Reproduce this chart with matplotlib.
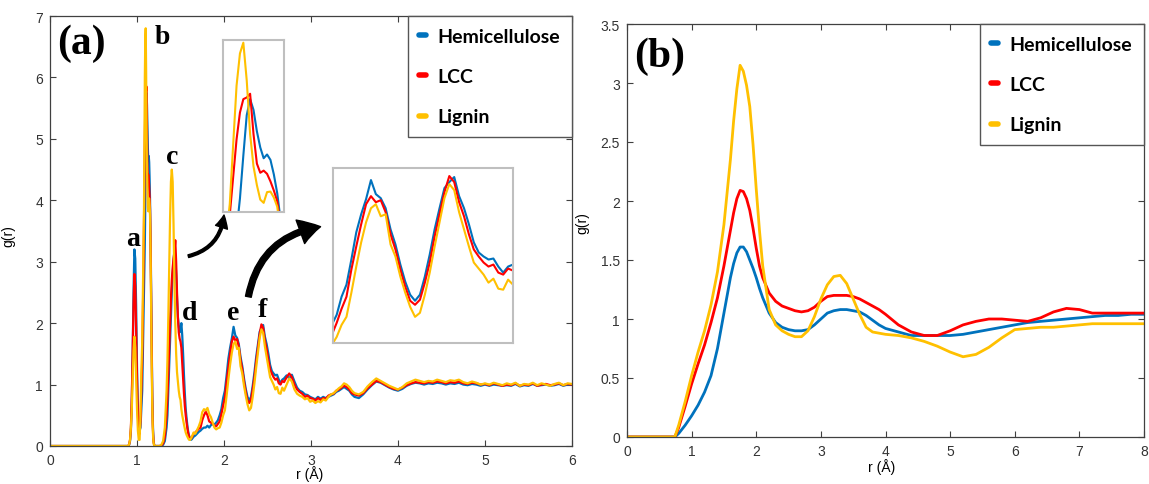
import numpy as np
import matplotlib.pyplot as plt
from matplotlib.lines import Line2D

plt.rcParams['font.family'] = ['Liberation Sans', 'DejaVu Sans']

BLUE = '#0072BD'
RED = '#FF0000'
YELLOW = '#FFC000'
names = ['Hemicellulose', 'LCC', 'Lignin']

# ---- (a) raw g(r), shared r grid in Angstrom ----
r_a = np.concatenate([
    [0.0, 0.90],
    np.arange(0.91, 1.055, 0.01),
    np.arange(1.06, 1.2025, 0.005),
    np.arange(1.22, 1.345, 0.02),
    np.arange(1.35, 1.655, 0.01),
    np.arange(1.67, 2.695, 0.02),
    np.arange(2.72, 3.505, 0.03),
    np.arange(3.55, 6.005, 0.05),
])

hemi_a = [0, 0,
    0.02, 0.08, 0.25, 0.7, 1.5, 2.5, 3.2, 3.05, 2.3, 1.3, 0.6, 0.3, 0.25, 0.3, 0.6,
    0.9, 1.3, 1.7, 2.1, 2.5, 2.9, 3.3, 3.9, 4.7, 5.45, 5.75, 5.55, 5.15, 4.85, 4.65, 4.72, 4.62, 4.35, 4.0, 3.5,
    2.9, 2.2, 1.5, 0.9, 0.5, 0.25, 0.1, 0.04, 0.0,
    0, 0, 0, 0, 0.02, 0.08, 0.3,
    0.5, 0.9, 1.3, 1.7, 2.1, 2.5, 2.8, 3.0, 3.2, 3.1, 2.8, 2.4, 2.1, 1.95, 1.85, 1.9, 2.0, 1.8, 1.5, 1.15,
    0.85, 0.6, 0.45, 0.32, 0.22, 0.16, 0.12, 0.1, 0.11, 0.13, 0.15,
    0.17, 0.2, 0.23, 0.25, 0.28, 0.3, 0.3, 0.33, 0.3, 0.34, 0.36, 0.35, 0.38, 0.42, 0.5, 0.6, 0.78, 0.9,
    1.15, 1.42, 1.6, 1.75, 1.94, 1.8, 1.76, 1.66, 1.45, 1.3, 1.1, 0.93, 0.8, 0.74, 0.8, 0.98, 1.2, 1.45,
    1.66, 1.86, 1.92, 1.97, 1.78, 1.66, 1.5, 1.32, 1.22, 1.18, 1.15, 1.16, 1.08, 1.02, 1.08, 1.1,
    1.15, 1.1, 1.16, 1.05, 0.95, 0.9, 0.88, 0.84, 0.83, 0.8, 0.78, 0.76, 0.8, 0.77, 0.8, 0.78, 0.8, 0.82,
    0.84, 0.88, 0.9, 0.93, 0.96, 0.93, 0.9, 0.84, 0.8,
    0.78, 0.84, 0.92, 0.99, 1.05, 1.03, 0.99, 0.95, 0.92, 0.9, 0.93, 0.98, 1.01, 1.03, 1.02, 1.0, 1.02,
    1.01, 1.03, 1.02, 1.0, 1.02, 1.01, 1.03, 1.0, 0.99, 1.01, 1.0, 0.98, 1.0, 0.98, 1.0, 0.99, 0.98, 0.99,
    0.98, 1.01, 0.97, 0.99, 0.98, 1.01, 0.98, 0.99, 1.0, 0.98, 0.99, 1.01, 0.98, 1.0, 1.0]

lcc_a = [0, 0,
    0.03, 0.1, 0.3, 0.8, 1.5, 2.3, 2.8, 2.6, 1.9, 1.1, 0.5, 0.25, 0.2, 0.4, 0.9,
    1.4, 1.9, 2.4, 2.9, 3.6, 4.3, 5.0, 5.5, 5.75, 5.78, 5.85, 5.1, 4.55, 4.38, 4.42, 4.36, 4.22, 4.05, 3.85,
    3.4, 2.8, 2.1, 1.4, 0.8, 0.4, 0.2, 0.08, 0.03, 0.0,
    0, 0, 0, 0.01, 0.04, 0.15, 0.5,
    0.8, 1.2, 1.6, 2.0, 2.4, 2.7, 2.9, 3.05, 3.15, 3.35, 3.0, 2.5, 2.1, 1.85, 1.75, 1.7, 1.6, 1.35, 1.1,
    0.85, 0.65, 0.5, 0.38, 0.28, 0.2, 0.15, 0.12, 0.12, 0.14, 0.17, 0.2,
    0.22, 0.25, 0.28, 0.3, 0.42, 0.5, 0.56, 0.5, 0.4, 0.38, 0.36, 0.33, 0.32, 0.36, 0.4, 0.52, 0.66, 0.78,
    1.05, 1.28, 1.5, 1.7, 1.78, 1.72, 1.74, 1.62, 1.4, 1.25, 1.05, 0.88, 0.74, 0.7, 0.75, 0.92, 1.12, 1.38,
    1.6, 1.82, 1.98, 1.92, 1.72, 1.58, 1.4, 1.25, 1.18, 1.12, 1.08, 1.1, 1.02, 1.0, 1.06, 1.04,
    1.12, 1.18, 1.12, 1.0, 0.92, 0.88, 0.85, 0.8, 0.82, 0.78, 0.77, 0.74, 0.78, 0.75, 0.78, 0.77, 0.82, 0.84,
    0.85, 0.9, 0.92, 0.95, 0.98, 0.96, 0.92, 0.86, 0.84,
    0.82, 0.86, 0.94, 1.0, 1.06, 1.04, 1.0, 0.96, 0.93, 0.92, 0.95, 0.99, 1.02, 1.04, 1.03, 1.02, 1.04,
    1.03, 1.05, 1.04, 1.02, 1.04, 1.03, 1.05, 1.02, 1.01, 1.03, 1.02, 1.0, 1.01, 0.99, 1.02, 1.0, 0.98, 1.0,
    0.99, 1.02, 0.98, 1.0, 0.99, 1.02, 0.98, 1.0, 1.01, 0.99, 1.0, 1.02, 0.99, 1.01, 1.0]

lignin_a = [0, 0,
    0.03, 0.1, 0.3, 0.6, 1.1, 1.55, 1.78, 1.6, 1.1, 0.6, 0.25, 0.1, 0.1, 0.5, 1.2,
    1.7, 2.2, 2.7, 3.2, 3.8, 4.9, 6.0, 6.6, 6.8, 6.1, 5.1, 4.5, 4.15, 3.88, 3.82, 4.02, 4.03, 3.92, 3.75,
    3.3, 2.6, 1.9, 1.2, 0.7, 0.35, 0.15, 0.06, 0.02, 0.0,
    0, 0, 0, 0.02, 0.08, 0.3, 0.9,
    1.4, 2.1, 2.9, 3.7, 4.3, 4.5, 4.3, 3.6, 2.7, 2.0, 1.5, 1.2, 1.05, 0.9, 0.8, 0.75, 0.6, 0.5, 0.42,
    0.35, 0.28, 0.22, 0.18, 0.15, 0.12, 0.1, 0.1, 0.12, 0.15, 0.18, 0.22,
    0.2, 0.26, 0.32, 0.4, 0.55, 0.6, 0.58, 0.62, 0.52, 0.47, 0.38, 0.3, 0.27, 0.29, 0.3, 0.38, 0.5, 0.58,
    0.82, 1.08, 1.32, 1.52, 1.66, 1.7, 1.58, 1.6, 1.3, 1.18, 0.98, 0.82, 0.68, 0.58, 0.62, 0.8, 1.02, 1.28,
    1.52, 1.76, 1.9, 1.84, 1.62, 1.45, 1.28, 1.12, 1.06, 1.0, 0.92, 0.96, 0.86, 0.85, 0.95, 0.9,
    1.0, 1.1, 1.05, 0.92, 0.85, 0.82, 0.8, 0.76, 0.78, 0.72, 0.74, 0.7, 0.73, 0.71, 0.76, 0.74, 0.8, 0.84,
    0.86, 0.9, 0.94, 0.97, 1.02, 1.0, 0.96, 0.9, 0.86,
    0.84, 0.88, 0.97, 1.04, 1.1, 1.06, 1.02, 0.98, 0.95, 0.92, 0.96, 1.02, 1.05, 1.08, 1.06, 1.04, 1.06,
    1.05, 1.08, 1.06, 1.04, 1.07, 1.06, 1.08, 1.04, 1.02, 1.05, 1.03, 1.0, 1.02, 1.0, 1.03, 1.01, 0.99, 1.02,
    1.0, 1.03, 0.98, 1.01, 1.0, 1.03, 0.99, 1.02, 1.0, 0.98, 1.01, 1.03, 0.99, 1.02, 1.01]

# ---- (b) smoothed g(r) ----
r_b = [0.0, 0.74, 0.8, 0.9, 1.0, 1.1, 1.2, 1.3, 1.4, 1.5, 1.6, 1.65, 1.7, 1.75, 1.8, 1.85, 1.9,
       1.95, 2.0, 2.05, 2.1, 2.2, 2.3, 2.4, 2.5, 2.6, 2.7, 2.8, 2.9, 3.0, 3.1, 3.2, 3.3, 3.4, 3.5,
       3.6, 3.7, 3.8, 3.9, 4.0, 4.2, 4.4, 4.6, 4.8, 5.0, 5.2, 5.4, 5.6, 5.8, 6.0, 6.2, 6.4, 6.6,
       6.8, 7.0, 7.2, 7.4, 7.6, 7.8, 8.0]
hemi_b = [0, 0, 0.03, 0.1, 0.18, 0.27, 0.38, 0.52, 0.75, 1.05, 1.35, 1.47, 1.56, 1.61, 1.61, 1.57, 1.5,
          1.43, 1.35, 1.26, 1.18, 1.05, 0.97, 0.93, 0.91, 0.9, 0.9, 0.91, 0.95, 1.0, 1.05, 1.07, 1.08,
          1.08, 1.07, 1.06, 1.03, 0.99, 0.95, 0.92, 0.89, 0.86, 0.86, 0.86, 0.86, 0.87, 0.89, 0.91,
          0.93, 0.95, 0.97, 0.98, 0.99, 1.0, 1.01, 1.02, 1.03, 1.03, 1.04, 1.04]
lcc_b = [0, 0, 0.08, 0.26, 0.45, 0.62, 0.78, 0.97, 1.18, 1.45, 1.75, 1.9, 2.02, 2.09, 2.08, 2.02, 1.92,
         1.77, 1.6, 1.45, 1.35, 1.22, 1.15, 1.11, 1.09, 1.07, 1.06, 1.07, 1.1, 1.15, 1.19, 1.2, 1.2,
         1.2, 1.19, 1.17, 1.14, 1.11, 1.08, 1.04, 0.95, 0.89, 0.86, 0.86, 0.9, 0.95, 0.98, 1.0, 1.0,
         0.99, 0.98, 1.01, 1.06, 1.09, 1.08, 1.05, 1.05, 1.05, 1.05, 1.05]
lignin_b = [0, 0, 0.1, 0.3, 0.52, 0.72, 0.9, 1.12, 1.4, 1.8, 2.35, 2.68, 2.95, 3.15, 3.1, 2.98, 2.8,
            2.48, 2.1, 1.75, 1.45, 1.08, 0.95, 0.9, 0.87, 0.85, 0.85, 0.9, 1.02, 1.17, 1.29, 1.36, 1.37,
            1.3, 1.17, 1.04, 0.93, 0.89, 0.88, 0.87, 0.86, 0.84, 0.81, 0.77, 0.72, 0.68, 0.7, 0.76,
            0.84, 0.91, 0.92, 0.93, 0.93, 0.94, 0.95, 0.96, 0.96, 0.96, 0.96, 0.96]

W, H = 1149, 485
fig = plt.figure(figsize=(W / 100, H / 100), dpi=100)


def px_axes(x0, y0, x1, y1):
    # pixel box (top-left origin) -> figure fraction axes
    return fig.add_axes([x0 / W, (H - y1) / H, (x1 - x0) / W, (y1 - y0) / H])


def style(ax):
    ax.tick_params(direction='in', top=True, right=True, length=4, width=0.8,
                   labelsize=10, labelcolor='#333333', color='#404040', pad=5)
    for s in ax.spines.values():
        s.set_color('#404040')
        s.set_linewidth(0.9)


def legend(ax):
    handles = [Line2D([0], [0], color=c, lw=4, solid_capstyle='round')
               for c in (BLUE, RED, YELLOW)]
    leg = ax.legend(handles, names, loc='upper right', bbox_to_anchor=(1, 1),
                    borderaxespad=0, fancybox=False, framealpha=1, edgecolor='#555555',
                    prop=dict(family='Lato', weight='bold', size=14),
                    handlelength=0.35, handletextpad=0.6, labelspacing=1.2, borderpad=0.6)
    leg.get_frame().set_linewidth(1.0)


# ---- panel (a) ----
ax1 = px_axes(50, 17, 572, 447)
for g, c in zip((hemi_a, lcc_a, lignin_a), (BLUE, RED, YELLOW)):
    ax1.plot(r_a, g, color=c, lw=1.6)
ax1.set_xlim(0, 6)
ax1.set_ylim(0, 7)
ax1.set_xticks(range(7))
ax1.set_yticks(range(8))
style(ax1)
ax1.set_xlabel('r (Å)', fontsize=10)
ax1.set_ylabel('g(r)', fontsize=10)
ax1.xaxis.set_label_coords(0.498, -0.045)
ax1.yaxis.set_label_coords(-0.067, 0.49)
legend(ax1)
ax1.text(0.061, 0.937, '(a)', transform=ax1.transAxes, ha='center', va='center',
         family='Liberation Serif', weight='bold', fontsize=30)
peak_labels = [('a', 0.955, 3.37), ('b', 1.29, 6.66), ('c', 1.40, 4.72),
               ('d', 1.61, 2.18), ('e', 2.11, 2.18), ('f', 2.44, 2.23)]
for t, x, y in peak_labels:
    ax1.text(x, y, t, ha='center', va='center', family='Liberation Serif',
             weight='bold', fontsize=20)
ax1.annotate('', xy=(2.0, 3.76), xytext=(1.59, 3.09),
             arrowprops=dict(arrowstyle='simple,head_width=0.9,head_length=0.9,tail_width=0.2',
                             connectionstyle='arc3,rad=0.35', color='black', shrinkA=0, shrinkB=0))
ax1.annotate('', xy=(3.11, 3.57), xytext=(2.28, 2.43),
             arrowprops=dict(arrowstyle='simple,head_width=1.8,head_length=1.5,tail_width=0.42',
                             connectionstyle='arc3,rad=-0.35', color='black', shrinkA=0, shrinkB=0))

# zoomed insets of peaks b and e/f
insets = [((223, 41, 284, 213), (1.07, 1.16), (3.65, 6.85)),
          ((333, 169, 513, 344), (1.955, 2.69), (0.32, 2.06))]
for box, xl, yl in insets:
    ins = px_axes(*box)
    for g, c in zip((hemi_a, lcc_a, lignin_a), (BLUE, RED, YELLOW)):
        ins.plot(r_a, g, color=c, lw=1.5)
    ins.set_xlim(*xl)
    ins.set_ylim(*yl)
    ins.set_xticks([])
    ins.set_yticks([])
    for s in ins.spines.values():
        s.set_color('#bfbfbf')
        s.set_linewidth(1.5)

# ---- panel (b) ----
ax2 = px_axes(627, 25, 1144, 438)
for g, c in zip((hemi_b, lcc_b, lignin_b), (BLUE, RED, YELLOW)):
    ax2.plot(r_b, g, color=c, lw=2)
ax2.set_xlim(0, 8)
ax2.set_ylim(0, 3.5)
ax2.set_xticks(range(9))
ax2.set_yticks(np.arange(0, 3.51, 0.5))
ax2.set_yticklabels(['0', '0.5', '1', '1.5', '2', '2.5', '3', '3.5'])
style(ax2)
ax2.set_xlabel('r (Å)', fontsize=10)
ax2.set_ylabel('g(r)', fontsize=10)
ax2.xaxis.set_label_coords(0.493, -0.052)
ax2.yaxis.set_label_coords(-0.072, 0.52)
legend(ax2)
ax2.text(0.064, 0.922, '(b)', transform=ax2.transAxes, ha='center', va='center',
         family='Liberation Serif', weight='bold', fontsize=30)

fig.savefig('out.png', dpi=100)
